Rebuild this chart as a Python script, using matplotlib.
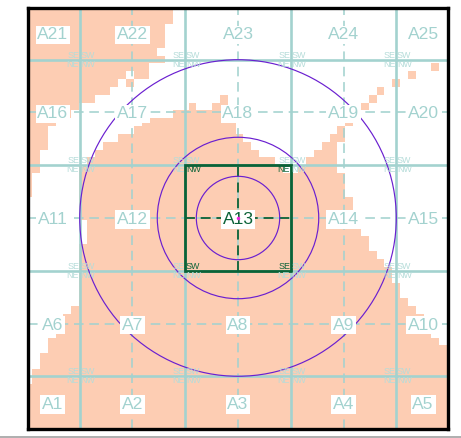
import numpy as np
import matplotlib
matplotlib.use('Agg')
import matplotlib.pyplot as plt
from matplotlib.lines import Line2D
from matplotlib.patches import Circle, Rectangle

plt.rcParams['font.family'] = ['Liberation Sans', 'DejaVu Sans']

# blocked cells of the raster, row -> (first column, end column)
salmon_runs = {
    0: [(-1, 18)], 1: [(-1, 18)], 2: [(-1, 17)], 3: [(-1, 17)], 4: [(-1, 17)],
    5: [(-1, 16)], 6: [(-1, 17)], 7: [(-1, 15), (51, 52)],
    8: [(-1, 12), (13, 15), (48, 49)],
    9: [(-1, 11), (12, 13), (46, 47)],
    10: [(-1, 10), (44, 45)],
    11: [(-1, 8), (24, 25), (43, 44)],
    12: [(-1, 6), (20, 21), (23, 25), (42, 43)],
    13: [(-1, 5), (18, 25)],
    14: [(-1, 3), (14, 26), (40, 41)],
    15: [(-1, 2), (13, 26), (39, 40)],
    16: [(-1, 2), (11, 27), (38, 40)],
    17: [(-1, 2), (9, 28), (37, 39)],
    18: [(-1, 1), (8, 29), (36, 39)],
    19: [(-1, 1), (7, 31), (35, 39)],
    20: [(-1, 1), (6, 32), (34, 39)],
    21: [(-1, 0), (6, 40)], 22: [(-1, 0), (6, 40)], 23: [(-1, 0), (6, 40)],
    24: [(6, 41)], 25: [(6, 41)], 26: [(6, 41)],
    27: [(7, 42)], 28: [(7, 42)], 29: [(7, 43)],
    30: [(6, 43)], 31: [(6, 44)], 32: [(6, 45)], 33: [(6, 46)], 34: [(6, 46)],
    35: [(6, 47)], 36: [(6, 47)], 37: [(6, 48)], 38: [(5, 49)], 39: [(4, 50)],
    40: [(4, 50)], 41: [(3, 51)], 42: [(2, 52)], 43: [(2, 53)],
    44: [(1, 53)], 45: [(1, 53)], 46: [(0, 53)], 47: [(0, 53)],
    48: [(-1, 53)], 49: [(-1, 53)], 50: [(-1, 53)], 51: [(-1, 53)],
    52: [(-1, 53)], 53: [(-1, 53)],
}

sector_names = [
    ['A21', 'A22', 'A23', 'A24', 'A25'],
    ['A16', 'A17', 'A18', 'A19', 'A20'],
    ['A11', 'A12', 'A13', 'A14', 'A15'],
    ['A6', 'A7', 'A8', 'A9', 'A10'],
    ['A1', 'A2', 'A3', 'A4', 'A5'],
]
label_x = [-1.754, -1, 0, 1, 1.754]
label_y = [1.749, 1, 0, -1, -1.754]
solid_lines = [-1.5, -0.5, 0.5, 1.5]
dashed_lines = [-1, 0, 1]
ring_radii = [0.395, 0.765, 1.5]

teal = '#A3D2CF'
teal_small = '#B5DCD9'
dark_green = '#0B6237'
purple = '#6A1FD0'
salmon = '#FDCDB3'

fig = plt.figure(figsize=(4.61, 4.38), dpi=100)
ax = fig.add_axes([27.7 / 461, 1 - 428.5 / 438, 420.6 / 461, 420.8 / 438])

# raster is on a pitch a bit finer than 1/13 of a sector
pitch = 7.83 / 105.5
x_edges = -1.952 + pitch * np.arange(-1, 54)
y_edges = 1.9845 - pitch * np.arange(0, 55)
mask = np.zeros((54, 54))
for row, runs in salmon_runs.items():
    for start, end in runs:
        mask[row, start + 1:end + 1] = 1
mask = np.ma.masked_equal(mask, 0)
ax.pcolormesh(x_edges, y_edges, mask, cmap=matplotlib.colors.ListedColormap([salmon]),
              antialiased=False, zorder=1)

for v in solid_lines:
    ax.axvline(v, color=teal, lw=1.9, zorder=2)
    ax.axhline(v, color=teal, lw=1.9, zorder=2)
for v in dashed_lines:
    ax.axvline(v, color=teal, lw=1.15, dashes=(6, 3.6), zorder=2)
    ax.axhline(v, color=teal, lw=1.15, dashes=(6, 3.6), zorder=2)

# quadrant tags round every crossing
for x in solid_lines:
    for y in solid_lines:
        for txt, ha, va, dx, dy in [('SE', 'right', 'bottom', -0.5, 1.3), ('SW', 'left', 'bottom', 0.5, 1.3),
                                    ('NE', 'right', 'top', -0.5, -5.2), ('NW', 'left', 'top', 0.5, -5.2)]:
            inside = (x, ha) in [(-0.5, 'left'), (0.5, 'right')] and (y, va) in [(0.5, 'top'), (-0.5, 'bottom')]
            if inside:
                if x == -0.5 and y == 0.5:
                    txt = 'NW'
                elif x == 0.5 and y == 0.5:
                    txt = 'NE'
                elif x == -0.5:
                    txt = 'SW'
                else:
                    txt = 'SE'
            ax.annotate(txt, (x, y), xytext=(dx, dy), textcoords='offset points', ha=ha, va='baseline',
                        fontsize=6.4, color=dark_green if inside else teal_small, zorder=6)

# centre sector
ax.add_patch(Rectangle((-0.5, -0.5), 1, 1, fill=False, ec=dark_green, lw=2, zorder=4))
ax.plot([-0.5, 0.5], [0, 0], color=dark_green, lw=1.3, dashes=(5.5, 3.2), zorder=4)
ax.plot([0, 0], [-0.5, 0.5], color=dark_green, lw=1.3, dashes=(5.5, 3.2), zorder=4)

for r in ring_radii:
    ax.add_patch(Circle((0, 0), r, fill=False, ec=purple, lw=0.85, zorder=5))

for row, y in zip(sector_names, label_y):
    for name, x in zip(row, label_x):
        ax.text(x, y, name, ha='center', va='center_baseline', fontsize=12.6,
                color=dark_green if name == 'A13' else teal, zorder=7,
                bbox=dict(fc='white', ec='none', pad=1.2))
ax.plot([0], [0], 'o', color='#F020E0', ms=2.5, mew=0, zorder=8)

ax.set_xlim(-1.993, 1.993)
ax.set_ylim(-1.995, 1.993)
ax.set_xticks([])
ax.set_yticks([])
for spine in ax.spines.values():
    spine.set_linewidth(2.4)
    spine.set_zorder(10)

fig.add_artist(Line2D([0, 1], [1 - 437.2 / 438] * 2, color='#999999', lw=1.1))
fig.savefig('out.png', dpi=100)
